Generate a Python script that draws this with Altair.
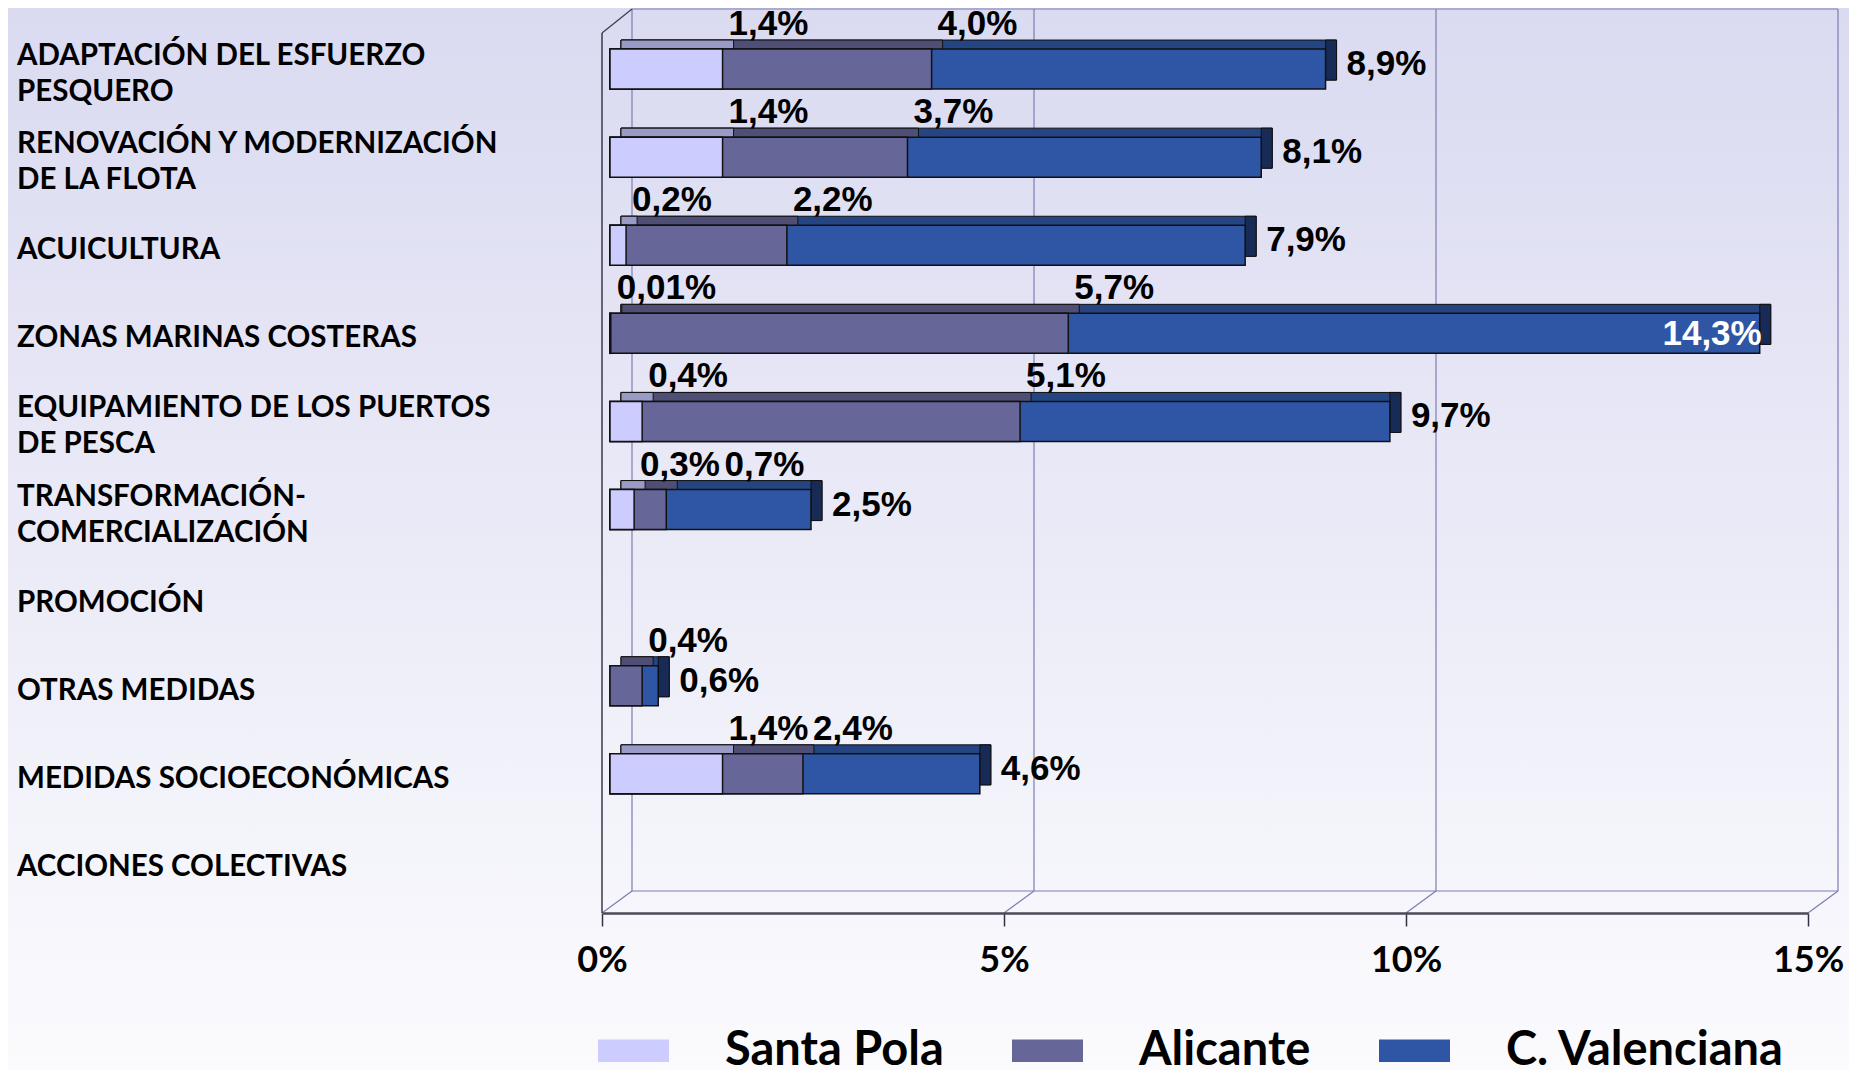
import altair as alt
import pandas as pd

# ---------------- data ----------------
categories = [
    "ADAPTACIÓN DEL ESFUERZO\nPESQUERO",
    "RENOVACIÓN Y MODERNIZACIÓN\nDE LA FLOTA",
    "ACUICULTURA",
    "ZONAS MARINAS COSTERAS",
    "EQUIPAMIENTO DE LOS PUERTOS\nDE PESCA",
    "TRANSFORMACIÓN-\nCOMERCIALIZACIÓN",
    "PROMOCIÓN",
    "OTRAS MEDIDAS",
    "MEDIDAS SOCIOECONÓMICAS",
    "ACCIONES COLECTIVAS",
]
series = ["Santa Pola", "Alicante", "C. Valenciana"]
santa_pola = [1.4, 1.4, 0.2, 0.01, 0.4, 0.3, None, None, 1.4, None]
alicante = [4.0, 3.7, 2.2, 5.7, 5.1, 0.7, None, 0.4, 2.4, None]
c_valenciana = [8.9, 8.1, 7.9, 14.3, 9.7, 2.5, None, 0.6, 4.6, None]
x_ticks = [0, 5, 10, 15]

# ---------------- styling ----------------
front_colors = ["#CCCCFF", "#666699", "#2E56A4"]
top_colors = {"Santa Pola": "#9A9AC6", "Alicante": "#4F4F75", "C. Valenciana": "#244581"}
side_color = "#182B57"
GRID = "#7C7CB4"

W, H = 1206, 881
PAD = {"left": 594, "top": 17, "right": 41, "bottom": 164}
BAR = 40          # bar thickness
BX = 8            # bar front-face shift from the axis
DX, DY = 11, 9    # bar depth
WX, WY = 30, 22   # wall depth
FLOOR = H + 7     # front floor line
LINE_H = 36       # category label line height


def fmt(v):
    s = f"{v:.2f}" if v < 0.1 else f"{v:.1f}"
    return s.replace(".", ",") + "%"


values = {"Santa Pola": santa_pola, "Alicante": alicante, "C. Valenciana": c_valenciana}
rows = []
for s in ["C. Valenciana", "Alicante", "Santa Pola"]:
    for c, v in zip(categories, values[s]):
        if v is not None:
            rows.append({"cat": c, "series": s, "value": v, "start": 0.0, "label": fmt(v)})
bars = pd.DataFrame(rows)

# label placement rules
sp = bars[bars.series == "Santa Pola"].copy()
sp["lx"] = sp["value"]
al = bars[bars.series == "Alicante"].copy()
sp_map = dict(zip(sp.cat, sp.value))
al["lx"] = [max(v, sp_map[c] + 1.05) if c in sp_map else v for c, v in zip(al.cat, al.value)]
cv = bars[bars.series == "C. Valenciana"].copy()
cv_out = cv[cv.value <= 13]
cv_in = cv[cv.value > 13]

# category label lines (split so that two-line labels are centred on their row)
lab_rows = []
for c in categories:
    parts = c.split("\n")
    n = len(parts)
    for k, p in enumerate(parts):
        lab_rows.append({"cat": c, "text": p, "pos": k - (n - 1) / 2})
labs = pd.DataFrame(lab_rows)

ticks_df = pd.DataFrame({"t": x_ticks})
span_df = pd.DataFrame({"a": [x_ticks[0]], "b": [x_ticks[-1]]})

xscale = alt.Scale(domain=[x_ticks[0], x_ticks[-1]], nice=False, zero=True)
yscale = alt.Scale(domain=categories, paddingInner=0, paddingOuter=0)
AX = alt.Axis(
    values=x_ticks, labelExpr="datum.value + '%'", offset=7, grid=False, zindex=1,
    domainColor="#4A4A58", domainWidth=2.5, tickColor="#333340", tickWidth=1.5,
    tickSize=13, labelFont="Lato", labelFontWeight="bold", labelFontSize=36,
    labelColor="black", labelPadding=17, labelFlush=False, labelOverlap=False,
)


def X(field):
    return alt.X(field, scale=xscale, axis=AX, title=None)


Y = alt.Y("cat:N", scale=yscale, axis=None, sort=categories)

# ---------------- background ----------------
bg = alt.Chart(pd.DataFrame({"a": [0]})).mark_rect(
    color=alt.Gradient(
        gradient="linear",
        stops=[alt.GradientStop(color="#DADAF1", offset=0),
               alt.GradientStop(color="#FBFBFE", offset=1)],
        x1=0, x2=0, y1=0, y2=1,
    )
).encode(
    x=alt.value(-PAD["left"]), x2=alt.value(W + PAD["right"]),
    y=alt.value(-PAD["top"]), y2=alt.value(H + PAD["bottom"]),
)

# ---------------- 3D walls ----------------
back_grid = alt.Chart(ticks_df).mark_rule(color=GRID, strokeWidth=1.2, xOffset=WX).encode(
    x=X("t:Q"), y=alt.value(-16), y2=alt.value(FLOOR - WY)
)
back_top = alt.Chart(span_df).mark_rule(color=GRID, strokeWidth=1.2, xOffset=WX, x2Offset=WX).encode(
    x=X("a:Q"), x2="b:Q", y=alt.value(-16)
)
back_floor = alt.Chart(span_df).mark_rule(color=GRID, strokeWidth=1.2, xOffset=WX, x2Offset=WX).encode(
    x=X("a:Q"), x2="b:Q", y=alt.value(FLOOR - WY)
)
floor_diag = alt.Chart(ticks_df).mark_rule(color=GRID, strokeWidth=1.2, x2Offset=WX).encode(
    x=X("t:Q"), x2="t:Q", y=alt.value(FLOOR), y2=alt.value(FLOOR - WY)
)
left_front = alt.Chart(span_df).mark_rule(color="#3A3A48", strokeWidth=1.5).encode(
    x=X("a:Q"), y=alt.value(8), y2=alt.value(FLOOR)
)
left_diag = alt.Chart(span_df).mark_rule(color="#3A3A48", strokeWidth=1.2, x2Offset=WX).encode(
    x=X("a:Q"), x2="a:Q", y=alt.value(8), y2=alt.value(-16)
)

# ---------------- bars ----------------
back_layers = []
for s in ["C. Valenciana", "Alicante", "Santa Pola"]:
    back_layers.append(
        alt.Chart(bars[bars.series == s]).mark_bar(
            size=BAR, xOffset=BX + DX, x2Offset=BX + DX, yOffset=-DY,
            color=top_colors[s], stroke="#111111", strokeWidth=1,
        ).encode(x=X("start:Q"), x2="value:Q", y=Y)
    )

side = alt.Chart(cv).mark_bar(
    size=BAR, xOffset=BX, x2Offset=BX + DX, yOffset=-DY,
    color=side_color, stroke="#111111", strokeWidth=1,
).encode(x=X("value:Q"), x2="value:Q", y=Y)

front = alt.Chart(bars).mark_bar(
    size=BAR, xOffset=BX, x2Offset=BX, stroke="#111111", strokeWidth=1.5,
).encode(
    x=X("start:Q"),
    x2="value:Q",
    y=Y,
    color=alt.Color(
        "series:N",
        scale=alt.Scale(domain=series, range=front_colors),
        legend=alt.Legend(
            title=None, orient="none", legendX=-4, legendY=990, direction="horizontal",
            symbolType="M-1,-0.32L1,-0.32L1,0.32L-1,0.32Z", symbolSize=5041,
            symbolStrokeWidth=0, symbolOpacity=1,
            labelFont="Lato", labelFontSize=47, labelFontWeight="bold", labelColor="black",
            labelOffset=56, columnPadding=68, labelLimit=600,
        ),
    ),
)

# ---------------- text ----------------
cat_layers = []
for pos in sorted(labs.pos.unique()):
    cat_layers.append(
        alt.Chart(labs[labs.pos == pos]).mark_text(
            align="left", baseline="middle", font="Lato", fontSize=29.5, fontWeight="bold",
            dy=5 + pos * LINE_H, color="black",
        ).encode(x=alt.value(17 - 602), y=Y, text="text:N")
    )

vfont = dict(font="Liberation Sans", fontSize=35, fontWeight="bold", baseline="alphabetic")
sp_text = alt.Chart(sp).mark_text(align="left", dx=14, dy=-34, color="black", **vfont).encode(
    x=X("lx:Q"), y=Y, text="label:N")
al_text = alt.Chart(al).mark_text(align="left", dx=14, dy=-34, color="black", **vfont).encode(
    x=X("lx:Q"), y=Y, text="label:N")
cv_text = alt.Chart(cv_out).mark_text(align="left", dx=29, dy=6, color="black", **vfont).encode(
    x=X("value:Q"), y=Y, text="label:N")
cv_text_in = alt.Chart(cv_in).mark_text(align="right", dx=BX + 2, dy=12, color="white", **vfont).encode(
    x=X("value:Q"), y=Y, text="label:N")

chart = alt.layer(
    bg, back_grid, back_top, back_floor, floor_diag, left_front, left_diag,
    *back_layers, side, front,
    *cat_layers, sp_text, al_text, cv_text, cv_text_in,
).properties(
    width=W, height=H, padding=PAD, autosize=alt.AutoSizeParams(type="none"),
    background="white",
).configure_view(strokeOpacity=0)

chart.save("out.html", embed_options={"renderer": "svg", "actions": False})
